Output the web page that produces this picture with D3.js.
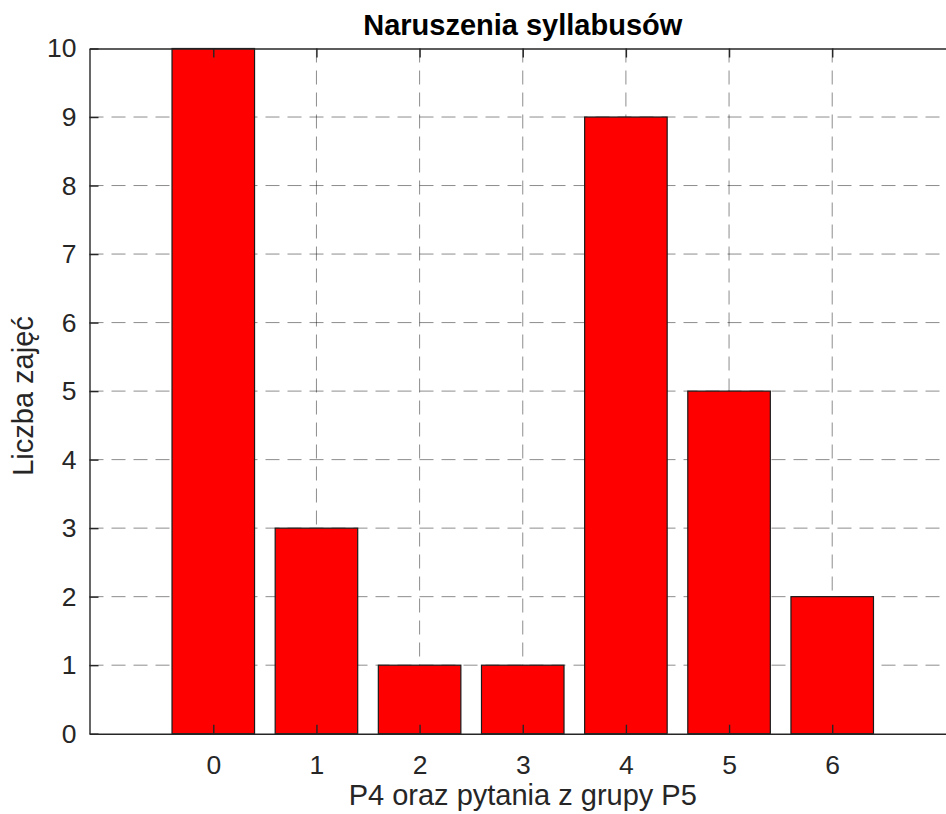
<!DOCTYPE html>
<html>
<head>
<meta charset="utf-8">
<script src="https://cdn.jsdelivr.net/npm/d3@7"></script>
<style>
  html, body { margin: 0; padding: 0; background: #fff; overflow: hidden; }
  svg { display: block; font-family: "Liberation Sans", Arial, sans-serif; }
</style>
</head>
<body>
<svg id="chart" width="946" height="814"></svg>
<script>
// DATA
const categories = [0, 1, 2, 3, 4, 5, 6];
const values = [10, 3, 1, 1, 9, 5, 2];
const yTicks = [0, 1, 2, 3, 4, 5, 6, 7, 8, 9, 10];
const titleText = "Naruszenia syllabusów";
const xLabel = "P4 oraz pytania z grupy P5";
const yLabel = "Liczba zajęć";

// CANVAS SETUP
const width = 946, height = 814;
const margin = { top: 48.5, left: 89.5, bottom: 80.3, right: -10 };
const innerWidth = width - margin.left - margin.right,
  innerHeight = height - margin.top - margin.bottom;

const axisColor = "#262626";
const svg = d3.select("#chart");
const g = svg.append("g").attr("transform", `translate(${margin.left},${margin.top})`);

const xScale = d3.scaleLinear().domain([-1.2, 7.2]).range([0, innerWidth]);
const yScale = d3.scaleLinear().domain([0, 10]).range([innerHeight, 0]);

// GRID
const grid = g.append("g").attr("class", "grid")
  .attr("stroke", "#000").attr("stroke-opacity", 0.45)
  .attr("stroke-width", 1).attr("stroke-dasharray", "14,8");

grid.selectAll(".gx").data(categories).join("line")
  .attr("x1", d => xScale(d)).attr("x2", d => xScale(d))
  .attr("y1", 0).attr("y2", innerHeight);

grid.selectAll(".gy").data(yTicks.slice(1, -1)).join("line")
  .attr("y1", d => yScale(d)).attr("y2", d => yScale(d))
  .attr("x1", 0).attr("x2", innerWidth);

// BARS
const barW = xScale(0.8) - xScale(0);
g.selectAll("rect.bar").data(categories).join("rect")
  .attr("class", "bar")
  .attr("x", d => xScale(d) - barW / 2)
  .attr("y", (d, i) => yScale(values[i]))
  .attr("width", barW)
  .attr("height", (d, i) => yScale(0) - yScale(values[i]))
  .attr("fill", "#ff0000")
  .attr("stroke", "#1a1a1a")
  .attr("stroke-width", 1.2);

// AXES
function styleAxis(sel) {
  sel.select(".domain").attr("stroke", axisColor).attr("stroke-width", 1.4);
  sel.selectAll(".tick line").attr("stroke", axisColor).attr("stroke-width", 1.4);
  sel.selectAll(".tick text").attr("fill", axisColor).style("font-size", "26.5px");
}

g.append("g").attr("transform", `translate(0,${innerHeight})`)
  .call(d3.axisBottom(xScale).tickValues(categories).tickFormat(d3.format("d"))
    .tickSizeInner(-9).tickSizeOuter(0).tickPadding(21))
  .call(styleAxis);

// top spine with inward ticks, no labels
g.append("g")
  .call(d3.axisTop(xScale).tickValues(categories).tickFormat("")
    .tickSizeInner(-9).tickSizeOuter(0))
  .call(styleAxis)
  .call(ax => ax.selectAll(".tick text").remove());

g.append("g")
  .call(d3.axisLeft(yScale).tickValues(yTicks).tickFormat(d3.format("d"))
    .tickSizeInner(-9).tickSizeOuter(0).tickPadding(13))
  .call(styleAxis);

// LABELS
const cx = margin.left + innerWidth / 2;
svg.append("text")
  .attr("x", cx).attr("y", 35)
  .attr("text-anchor", "middle")
  .attr("fill", "#000")
  .style("font-size", "29px").style("font-weight", "bold")
  .text(titleText);

svg.append("text")
  .attr("x", cx).attr("y", 805)
  .attr("text-anchor", "middle")
  .attr("fill", axisColor)
  .style("font-size", "29px")
  .text(xLabel);

svg.append("text")
  .attr("transform", `translate(33,396) rotate(-90)`)
  .attr("text-anchor", "middle")
  .attr("fill", axisColor)
  .style("font-size", "29px")
  .text(yLabel);
</script>
</body>
</html>
